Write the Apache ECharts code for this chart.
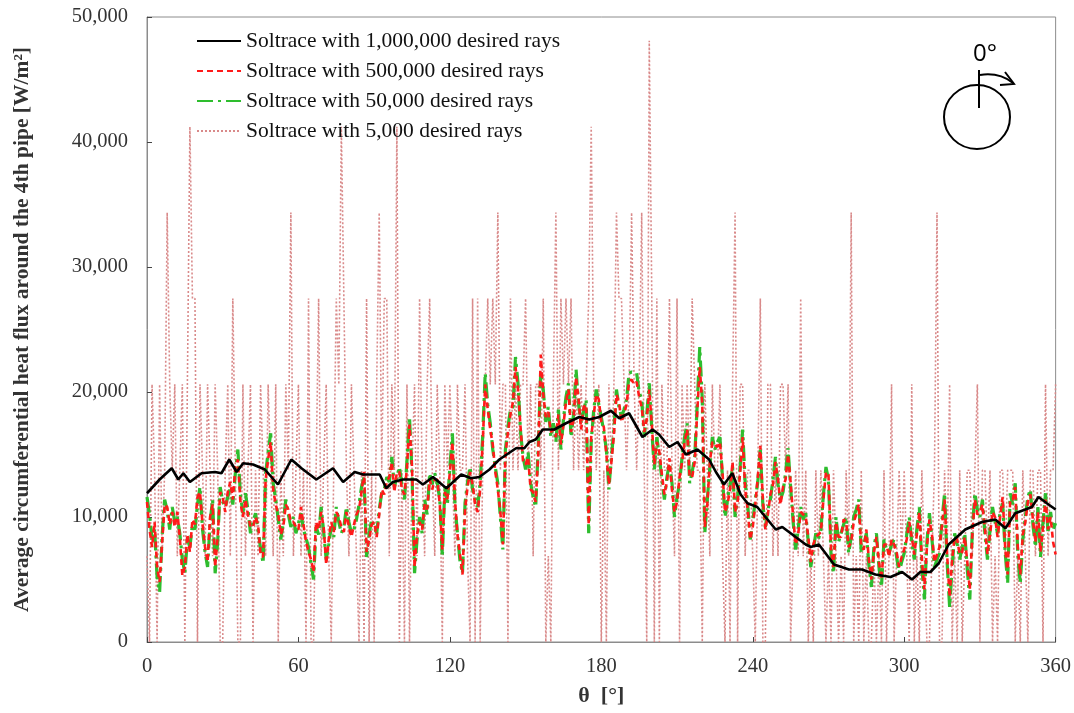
<!DOCTYPE html>
<html><head><meta charset="utf-8">
<script src="https://cdn.jsdelivr.net/npm/echarts@6/dist/echarts.min.js"></script>
<style>html,body{margin:0;padding:0;background:#fff}#c{width:1074px;height:713px}</style>
</head><body><div id="c"></div>
<script>
// ---------- DATA ----------
const seriesNames = [
  'Soltrace with 1,000,000 desired rays',
  'Soltrace with 500,000 desired rays',
  'Soltrace with 50,000 desired rays',
  'Soltrace with 5,000 desired rays'
];
const xTickValues = [0, 60, 120, 180, 240, 300, 360];
const yTickValues = [0, 10000, 20000, 30000, 40000, 50000];

// 1° angular grid for the three noisy series
const thetaDeg = Array.from({length: 361}, (_, i) => i);

// 1,000,000 rays (read at its visible kinks)
const blackTheta = [0,5,9.8,12.4,14.4,17,21.6,26.9,29.5,32.6,35.5,38.1,42,46.7,51.9,57.2,61.2,67.1,73.7,77.7,82.3,85.6,92.2,94.8,97.4,101.4,106.7,109.3,113.3,118.6,124.5,128.4,131.7,135.7,139.6,146.2,149.5,151.5,154,156.8,161.4,166,171.3,175.2,179.2,183.8,187.1,191,196.3,200.3,202.9,206.9,210.2,213.5,218.1,222.7,225.4,228.6,231.9,235.2,237.9,241.8,249.1,251.7,257,261,263,266.2,272.2,278.1,283.3,288.6,294.6,299.2,303.1,306.4,310.4,313.7,317.6,324.2,330.8,336.1,340.1,344,348,350.6,353.2,356.5,360];
const blackFlux = [11900,13000,13900,13000,13500,12800,13500,13600,13500,14600,13600,14300,14200,13800,12600,14600,13900,13000,13900,12800,13600,13400,13400,12300,12800,13000,13000,12600,13200,12300,13400,13100,13200,13800,14600,15500,15500,16000,16200,17000,17000,17500,18000,17800,18000,18500,17900,18300,16400,17000,16600,15600,16000,15000,15400,14600,13600,12600,13500,11800,11100,10800,9000,9200,8400,7800,7600,7800,6200,5800,5800,5400,5200,5600,5000,5600,5600,6300,7800,9000,9600,9800,9100,10300,10600,10800,11600,11100,10600];

// 500,000 rays
const flux500k = [
11200,9000,7600,9600,6000,4800,8000,11000,10800,9400,
10400,9200,10400,8400,5300,6000,8600,7200,9800,9400,
11600,12000,9400,7600,6400,10000,11000,6000,8400,12000,
11600,10400,12000,12800,11400,14000,14600,11200,10000,11400,
10200,9200,9200,10000,9400,7000,6800,13000,14600,16000,
12200,11000,10200,8600,9200,11000,10600,9600,9600,9200,
9000,10800,9400,8000,7200,6600,5600,9600,9000,10400,
9200,6200,8200,9600,8800,10400,10000,9200,8800,10400,
9200,8400,9400,10200,10600,12000,13600,7200,8200,9400,
9600,8400,10200,12200,11800,12800,13200,14400,12000,13600,
13600,12200,11800,14000,17400,14000,6000,8600,9600,9000,
11000,10600,13000,12200,13000,13000,11000,7400,12000,11400,
13600,16000,11400,8600,7000,5400,10600,12400,13600,12600,
11000,10400,12200,16000,20600,18600,17000,15800,13600,12200,
10400,7800,15000,16800,18200,19200,22000,20200,17200,14400,
14200,14800,12200,12000,11200,15000,23000,19800,18000,18400,
16800,17000,16400,18200,15800,17400,19200,20200,16800,17800,
21200,19400,17000,18800,19000,9400,16400,18200,19800,19400,
17600,17200,15000,12600,14400,16600,19800,19200,17600,18200,
19000,20800,21000,20600,20800,19600,18800,16800,17800,20200,
17400,14200,16000,15200,13400,11800,12800,14700,12200,10400,
11200,13200,14400,16000,17000,13200,13200,14400,18400,22000,
19000,9200,11000,14400,16000,15800,15600,16000,13600,10400,
11000,12200,14400,10400,11200,13600,16400,12200,10600,8200,
9200,11000,13200,15700,11400,9000,10200,11800,12600,14400,
13000,11000,12400,13000,15000,12800,10000,7800,8600,10400,
10200,10000,8400,6400,7800,8400,8600,8800,11400,13600,
13400,7400,6000,9600,8400,8400,9800,9600,7600,8000,
9600,10200,11000,7600,7400,9000,6600,5000,7200,8400,
6400,5000,7800,7800,6800,8200,7800,7200,6000,6800,
7400,8200,9600,8400,7000,8600,10400,6600,4200,7600,
9800,8600,6400,7000,7600,9400,11400,7000,3600,6600,
8400,8200,7000,7200,8400,6400,4200,8600,11400,10200,
10400,11000,9000,7000,8600,10400,10000,8400,10000,11600,
7600,5400,11400,11400,12400,7600,5400,8600,9600,11200,
11800,9800,8000,10400,7200,9200,11400,9000,10000,8000,
7000];

// 50,000 rays
const flux50k = [
11600,10200,8200,9000,5200,4000,8500,11400,10500,9000,
10800,9600,10000,8700,6600,5500,8200,7600,9400,9000,
11000,12400,9000,7200,6000,9600,11400,5500,8000,12400,
11200,10800,11600,12400,11000,13500,15400,11800,10300,11900,
10600,8700,9600,10300,8900,7500,6300,13500,15200,16700,
12700,11400,9800,8200,9600,11400,10200,9200,10000,8700,
9500,10300,9000,8300,7600,6200,5000,9200,8600,10800,
8800,6600,7800,9200,8400,10800,9600,8700,9200,10800,
9600,8700,9000,9800,11000,12400,13200,6800,8600,9800,
9200,8700,10600,11900,12200,13200,12800,14800,12400,13200,
14000,12600,11400,14500,18000,13500,5500,8200,10000,8700,
11400,10200,13500,12600,13500,12700,11400,6800,12400,11000,
14000,16700,11000,8700,6500,5500,11100,12800,14000,12200,
11500,10800,12700,16500,21500,19000,17500,15400,14000,12700,
10000,7400,15400,17200,18600,18800,22800,20700,16800,14800,
13800,15200,12700,11600,10800,15600,21600,20200,17600,18800,
16400,17500,16000,18600,15400,17800,19600,20700,16400,18200,
21800,19000,17500,18500,19400,8700,16000,18600,20200,19000,
18000,16800,15400,12200,14800,17000,20200,18800,18000,18600,
19400,21500,21600,21500,21500,20000,19400,16400,18200,20700,
17000,13800,16400,14800,13000,11400,13200,14300,12700,10000,
11600,12700,14800,16400,17500,12700,13600,14800,19000,23600,
19400,8700,11400,14000,16400,15400,16000,16400,13200,10000,
11400,12600,14000,10000,11600,14000,17000,12700,11000,8200,
9600,11400,12800,15400,11000,9200,10600,11400,13000,14800,
12600,11400,12000,13500,15500,12400,9600,7400,9000,10800,
9800,10300,8000,6000,7400,8700,8200,9000,11800,14000,
13000,7000,5500,10000,8000,8700,9400,10000,7100,8400,
10000,10600,11400,7100,7800,8700,6200,4400,7600,8700,
6000,4400,8200,7400,7100,7800,8200,6800,5500,6400,
7100,8600,10000,8000,6600,9000,10800,6000,3400,8000,
10300,8200,6000,6600,7100,9800,11900,6400,2800,6000,
8700,7800,6600,7600,8700,5800,3400,9000,11900,10600,
10000,11400,8600,6600,9000,10800,9600,8700,10400,11100,
7200,4700,11900,11000,12700,7000,4700,8200,10000,11600,
12200,9400,7600,10800,6800,9600,11900,8700,10400,9000,
9500];

// 5,000 rays (quantised levels)
const flux5k = [
6870,0,20610,13740,0,20610,6870,13740,34350,20610,
13740,20610,6870,13740,20610,0,20610,41220,27480,27480,
0,20610,13740,6870,20610,13740,6870,20610,13740,0,
0,13740,20610,6870,27480,13740,0,0,20610,6870,
13740,20610,0,13740,6870,20610,13740,6870,20610,13740,
6870,20610,0,13740,6870,20610,13740,34350,6870,13740,
20610,6870,13740,0,27480,0,0,13740,27480,6870,
13740,20610,6870,0,13740,27480,20610,41220,27480,13740,
6870,20610,13740,6870,0,13740,0,27480,0,13740,
0,20610,34350,13740,27480,27480,6870,20610,13740,41220,
0,13740,0,20610,0,13740,20610,6870,27480,13740,
6870,20610,27480,13740,6870,20610,13740,0,20610,13740,
20610,13740,6870,20610,13740,13740,20610,6870,0,27480,
0,27480,0,13740,20610,27480,20610,27480,20610,34350,
13740,20610,20610,0,27480,13740,20610,13740,20610,20610,
27480,13740,20610,6870,20610,20610,13740,27480,0,6870,
0,20610,34350,13740,27480,20610,27480,20610,27480,13740,
20610,13740,20610,13740,20610,27480,41220,20610,13740,20610,
0,13740,0,20610,13740,20610,34350,27480,27480,20610,
13740,20610,34350,20610,13740,20610,34350,13740,0,48090,
27480,0,27480,0,20610,13740,13740,27480,13740,6870,
27480,0,20610,13740,20610,13740,27480,20610,13740,13740,
0,20610,13740,6870,20610,13740,13740,20610,6870,0,
13740,0,20610,34350,0,20610,20610,6870,13740,13740,
6870,0,13740,27480,0,0,20610,20610,6870,13740,
6870,20610,20610,13740,20610,0,6870,13740,6870,27480,
6870,13740,0,6870,0,13740,6870,13740,6870,0,
6870,0,13740,6870,0,6870,0,13740,6870,34350,
0,6870,0,13740,0,6870,0,0,6870,0,
6870,0,13740,0,6870,20610,0,6870,13740,6870,
13740,6870,0,20610,0,6870,0,13740,6870,0,
0,6870,13740,34350,0,0,13740,6870,20610,0,
6870,0,13740,0,6870,13740,13740,6870,13740,20610,
0,13740,13740,6870,13740,0,6870,0,13740,13740,
6870,13740,13740,13740,0,6870,0,13740,6870,0,
13740,13740,6870,13740,13740,0,20610,6870,13740,13740,
20610];

// ---------- CHART ----------
const pairs = (xs, ys) => ys.map((v, i) => [xs[i], v]);
const serif = 'Liberation Serif';
const fmt = v => String(v).replace(/\B(?=(\d{3})+(?!\d))/g, ',');

const chart = echarts.init(document.getElementById('c'), null, {renderer: 'canvas'});
chart.setOption({
  animation: false,
  backgroundColor: '#fff',
  grid: {left: 147, right: 17, top: 17, bottom: 71, show: true, borderColor: '#8c8c8c', borderWidth: 1, containLabel: false},
  legend: {
    orient: 'vertical', left: 196, top: 30, padding: 0, itemGap: 8, itemWidth: 44, itemHeight: 14,
    data: seriesNames,
    itemStyle: {opacity: 0},
    textStyle: {fontFamily: serif, fontSize: 21.5, color: '#111'},
    inactiveColor: '#111'
  },
  xAxis: {
    type: 'value', min: xTickValues[0], max: xTickValues[xTickValues.length - 1], interval: 60,
    axisLine: {show: true, lineStyle: {color: '#8c8c8c', width: 1}},
    axisTick: {show: true, inside: true, length: 5, lineStyle: {color: '#444'}},
    axisLabel: {fontFamily: serif, fontSize: 20.5, color: '#333', margin: 14},
    splitLine: {show: false},
    name: 'θ  [°]', nameLocation: 'middle', nameGap: 43,
    nameTextStyle: {fontFamily: serif, fontSize: 22, fontWeight: 'bold', color: '#333'}
  },
  yAxis: {
    type: 'value', min: yTickValues[0], max: yTickValues[yTickValues.length - 1], interval: 10000,
    axisLine: {show: true, lineStyle: {color: '#8c8c8c', width: 1}},
    axisTick: {show: true, inside: true, length: 5, lineStyle: {color: '#444'}},
    axisLabel: {fontFamily: serif, fontSize: 20.5, color: '#333', margin: 19, formatter: fmt},
    splitLine: {show: false},
    name: 'Average circumferential heat flux around the 4th pipe [W/m²]',
    nameLocation: 'middle', nameRotate: 90, nameGap: 114,
    nameTextStyle: {fontFamily: serif, fontSize: 21.5, fontWeight: 'bold', color: '#333'}
  },
  series: [
    {name: seriesNames[3], type: 'line', z: 1, data: pairs(thetaDeg, flux5k), symbol: 'none', silent: true,
     lineStyle: {color: '#d98a8a', width: 1.6, type: [2, 2]}, itemStyle: {color: '#d98a8a'}},
    {name: seriesNames[2], type: 'line', z: 2, data: pairs(thetaDeg, flux50k), symbol: 'none', silent: true,
     lineStyle: {color: '#2ebd2e', width: 3.2, type: [16, 5, 3, 5]}, itemStyle: {color: '#2ebd2e'}},
    {name: seriesNames[1], type: 'line', z: 3, data: pairs(thetaDeg, flux500k), symbol: 'none', silent: true,
     lineStyle: {color: '#ff1a1a', width: 2.6, type: [6, 4]}, itemStyle: {color: '#ff1a1a'}},
    {name: seriesNames[0], type: 'line', z: 4, data: pairs(blackTheta, blackFlux), symbol: 'none', silent: true,
     lineStyle: {color: '#000', width: 2.6}, itemStyle: {color: '#000'}}
  ],
  graphic: [
    {type: 'text', left: 973, top: 42, style: {text: '0°', font: '24px "Open Sans"', fill: '#000'}},
    {type: 'ellipse', shape: {cx: 977, cy: 117, rx: 33, ry: 32}, style: {fill: 'none', stroke: '#000', lineWidth: 2}},
    {type: 'line', shape: {x1: 979, y1: 70, x2: 979, y2: 108}, style: {stroke: '#000', lineWidth: 2}},
    {type: 'bezierCurve', shape: {x1: 980, y1: 75, cpx1: 999, cpy1: 72, x2: 1013, y2: 83}, style: {fill: 'none', stroke: '#000', lineWidth: 2}},
    {type: 'polyline', shape: {points: [[1005, 72], [1014, 84], [1000, 85]]}, style: {fill: 'none', stroke: '#000', lineWidth: 2}}
  ]
});
</script></body></html>
